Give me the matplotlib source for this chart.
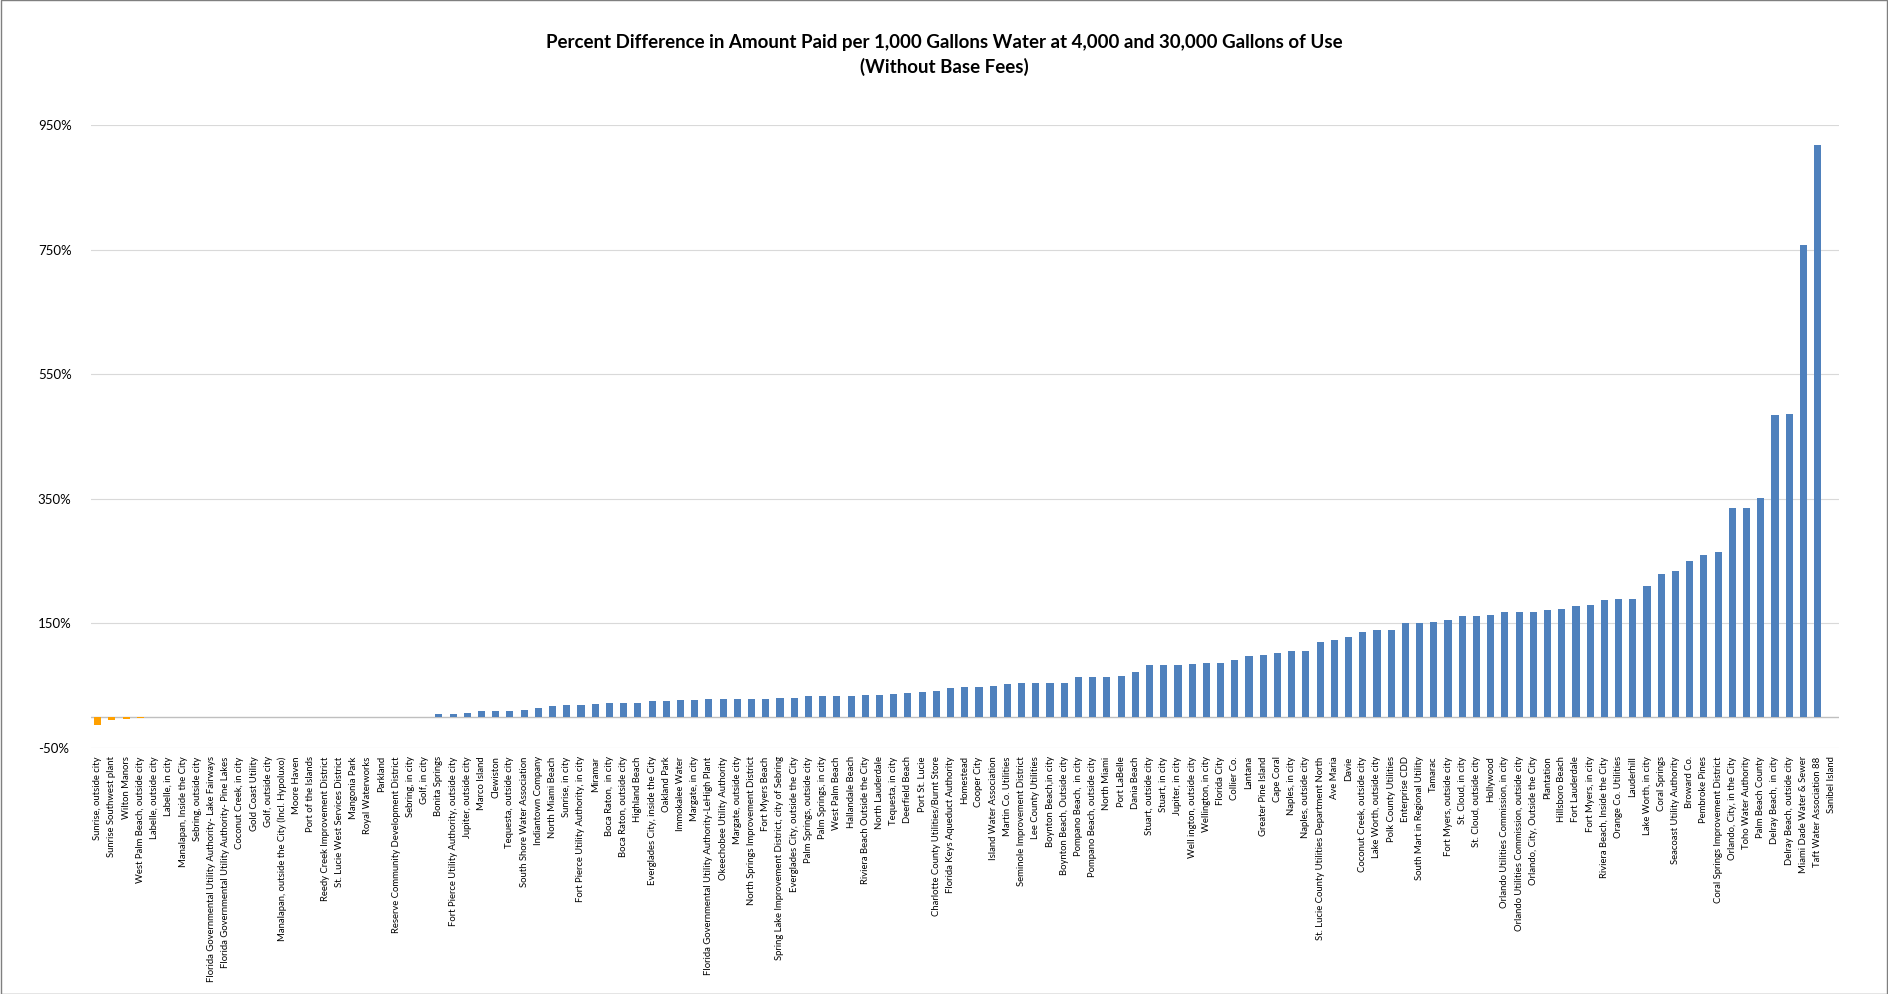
import matplotlib.pyplot as plt
import numpy as np

# utilities, sorted by percent difference
names = [
    "Sunrise, outside city", "Sunrise Southwest plant", "Wilton Manors",
    "West Palm Beach, outside city", "Labelle, outside city", "Labelle, in city",
    "Manalapan, Inside the City", "Sebring, outside city",
    "Florida Governmental Utility Authority- Lake Fairways",
    "Florida Governmental Utility Authority- Pine Lakes",
    "Coconut Creek, in city", "Gold Coast Utility", "Golf, outside city",
    "Manalapan, outside the City (Incl. Hypoluxo)", "Moore Haven", "Port of the Islands",
    "Reedy Creek Improvement District", "St. Lucie West Services District", "Mangonia Park",
    "Royal Waterworks", "Parkland", "Reserve Community Development District",
    "Sebring, in city", "Golf, in city", "Bonita Springs",
    "Fort Pierce Utility Authority, outside city", "Jupiter, outside city", "Marco Island",
    "Clewiston", "Tequesta, outside city", "South Shore Water Association",
    "Indiantown Company", "North Miami Beach", "Sunrise, in city",
    "Fort Pierce Utility Authority, in city", "Miramar", "Boca Raton,  in city",
    "Boca Raton, outside city", "Highland Beach", "Everglades City, inside the City",
    "Oakland Park", "Immokalee Water", "Margate, in city",
    "Florida Governmental Utility Authority-LeHigh Plant", "Okeechobee Utility Authority",
    "Margate, outside city", "North Springs Improvement District", "Fort Myers Beach",
    "Spring Lake Improvement District, city of Sebring", "Everglades City, outside the City",
    "Palm Springs, outside city", "Palm Springs, in city", "West Palm Beach",
    "Hallandale Beach", "Riviera Beach Outside the City", "North Lauderdale",
    "Tequesta, in city", "Deerfield Beach", "Port St. Lucie",
    "Charlotte County Utilities/Burnt Store", "Florida Keys Aqueduct Authority", "Homestead",
    "Cooper City", "Island Water Association", "Martin Co. Utilities",
    "Seminole Improvement District", "Lee County Utilities", "Boynton Beach,in city",
    "Boynton Beach, Outside city", "Pompano Beach,  in city", "Pompano Beach, outside city",
    "North Miami", "Port LaBelle", "Dania Beach", "Stuart, outside city", "Stuart, in city",
    "Jupiter, in city", "Well ington, outside city", "Wellington, in city", "Florida City",
    "Collier Co.", "Lantana", "Greater Pine Island", "Cape Coral", "Naples, in city",
    "Naples, outside city", "St. Lucie County Utilities Department North", "Ave Maria",
    "Davie", "Coconut Creek, outside city", "Lake Worth, outside city",
    "Polk County Utilities", "Enterprise CDD", "South Mart in Regional Utility", "Tamarac",
    "Fort Myers, outside city", "St. Cloud, in city", "St. Cloud, outside city", "Hollywood",
    "Orlando Utilities Commission, in city", "Orlando Utilities Commission, outside city",
    "Orlando, City, Outside the City", "Plantation", "Hillsboro Beach", "Fort Lauderdale",
    "Fort Myers, in city", "Riviera Beach, Inside the City", "Orange Co. Utilities",
    "Lauderhill", "Lake Worth, in city", "Coral Springs", "Seacoast Utility Authority",
    "Broward Co.", "Pembroke Pines", "Coral Springs Improvement District",
    "Orlando, City, in the City", "Toho Water Authority", "Palm Beach County",
    "Delray Beach,  in city", "Delray Beach, outside city", "Miami Dade Water & Sewer",
    "Taft Water Association 88", "Sanibel Island",
]

# percent difference (%)
pct = [
    -13, -5, -4, -2, -0.8, -0.5, -0.3, -0.2, -0.1, -0.1,
    0.05, 0.05, 0.05, 0.05, 0.1, 0.1, 0.1, 0.1, 0.1, 0.15,
    0.15, 0.2, 0.2, 0.3, 4, 5, 6, 9, 9.5, 10,
    11, 15, 17, 19, 19, 21, 23, 23, 23, 26,
    26, 27, 27, 28, 28, 28.5, 29, 29, 30, 30,
    34, 34, 34, 34, 34.5, 35, 36, 39, 40, 42,
    47, 48, 48.5, 49, 52, 54, 54, 55, 55, 64,
    64, 64, 66, 72, 83, 83, 84, 85, 86, 86,
    91, 98, 99, 103, 106, 106, 120, 124, 129, 137,
    140, 140, 150, 151, 153, 156, 162, 162, 163, 169,
    169, 169, 172, 173, 178, 180, 187, 190, 190, 210,
    229, 234, 250, 260, 265, 335, 335, 352, 484, 486,
    757, 919, 0,
]

pct = np.array(pct, dtype=float)
x = np.arange(len(names))
colors = ['#FFA000' if v < 0 else '#4F81BD' for v in pct]

plt.rcParams['font.family'] = ['Lato', 'DejaVu Sans']

fig = plt.figure(figsize=(18.88, 9.94), dpi=100)
ax = fig.add_axes([0.048, 0.2475, 0.926, 0.6265])

ax.bar(x, pct, width=0.5, color=colors, zorder=3)

ax.set_xlim(-0.5, len(names) - 0.5)
ax.set_ylim(-50, 950)
ax.set_yticks(np.arange(-50, 951, 200))
ax.set_yticklabels([f"{t}%" for t in range(-50, 951, 200)], fontsize=9.5)
ax.set_xticks(x)
ax.set_xticklabels(names, rotation=90, fontsize=6.8)
ax.tick_params(axis='both', length=0, pad=6)
ax.tick_params(axis='y', pad=38)
for lab in ax.get_yticklabels():
    lab.set_horizontalalignment('left')

ax.grid(axis='y', color='#D9D9D9', linewidth=0.8, zorder=0)
ax.axhline(0, color='#BFBFBF', linewidth=1, zorder=2)
for s in ax.spines.values():
    s.set_visible(False)

fig.suptitle("Percent Difference in Amount Paid per 1,000 Gallons Water at 4,000 and 30,000 Gallons of Use\n(Without Base Fees)",
             y=0.966, fontsize=13.5, fontweight='bold', linespacing=1.45)

# thin frame around the whole picture
fig.patches.append(plt.Rectangle((0.0005, 0.0005), 0.999, 0.999, transform=fig.transFigure,
                                 fill=False, edgecolor='#7F7F7F', linewidth=1))

fig.savefig("out.png", dpi=100)
